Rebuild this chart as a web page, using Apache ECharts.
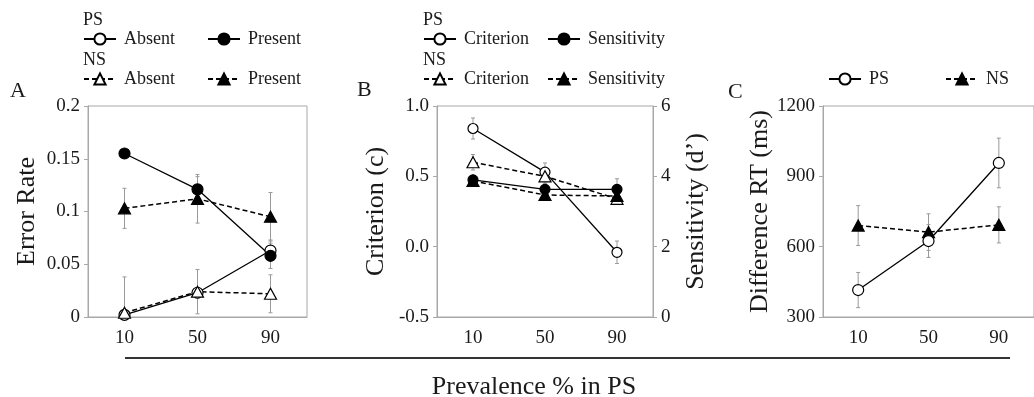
<!DOCTYPE html>
<html>
<head>
<meta charset="utf-8">
<script src="https://cdn.jsdelivr.net/npm/echarts@6/dist/echarts.min.js"></script>
<style>
  html, body { margin: 0; padding: 0; background: #fff; }
  #chart { width: 1034px; height: 397px; }
</style>
</head>
<body>
<div id="chart"></div>
<script>
// x categories (prevalence % in PS)
const categories = ['10', '50', '90'];

// panel A: error rate
const errorTicks = [0, 0.05, 0.1, 0.15, 0.2];
const psAbsent = [0.002, 0.023, 0.063];
const psAbsentErr = [0.003, 0.005, 0.010];
const psPresent = [0.155, 0.121, 0.058];
const psPresentErr = [0.004, 0.012, 0.012];
const nsAbsent = [0.004, 0.024, 0.022];
const nsAbsentErr = [0.034, 0.021, 0.018];
const nsPresent = [0.103, 0.112, 0.095];
const nsPresentErr = [0.019, 0.023, 0.023];

// panel B: criterion (left axis) and sensitivity (right axis)
const criterionTicks = [-0.5, 0, 0.5, 1.0];
const sensitivityTicks = [0, 2, 4, 6];
const psCriterion = [0.84, 0.53, -0.04];
const psCriterionErr = [0.075, 0.065, 0.08];
const nsCriterion = [0.60, 0.50, 0.34];
const nsCriterionErr = [0.055, 0.05, 0.04];
const psSensitivity = [3.90, 3.63, 3.63];
const psSensitivityErr = [0.12, 0.12, 0.30];
const nsSensitivity = [3.87, 3.47, 3.44];
const nsSensitivityErr = [0.12, 0.10, 0.20];

// panel C: difference RT
const rtTicks = [300, 600, 900, 1200];
const psRT = [415, 624, 957];
const psRTErr = [75, 70, 106];
const nsRT = [690, 662, 693];
const nsRTErr = [85, 78, 77];

const FONT = '"Liberation Serif", "DejaVu Serif", serif';
const TXT = '#1a1a1a';
const GREY = '#a8a8a8';

const chart = echarts.init(document.getElementById('chart'));

const grids = [
  { left: 88, top: 106, width: 219, height: 211 },
  { left: 437, top: 106, width: 216, height: 211 },
  { left: 823, top: 106, width: 216, height: 211 }
].map(g => Object.assign(g, { show: true, borderColor: GREY, borderWidth: 1, backgroundColor: 'transparent' }));

const xAxes = [0, 1, 2].map(i => ({
  type: 'category',
  gridIndex: i,
  data: categories,
  boundaryGap: true,
  axisLine: { onZero: false, lineStyle: { color: GREY } },
  axisTick: { show: false },
  axisLabel: { color: TXT, fontFamily: FONT, fontSize: 19, margin: 12 },
  splitLine: { show: false }
}));

function valueAxis(gridIndex, ticks, name, extra) {
  return Object.assign({
    type: 'value',
    gridIndex: gridIndex,
    min: ticks[0],
    max: ticks[ticks.length - 1],
    interval: ticks[1] - ticks[0],
    name: name,
    nameLocation: 'middle',
    nameGap: 48,
    nameRotate: 90,
    nameTextStyle: { color: TXT, fontFamily: FONT, fontSize: 26 },
    axisLine: { show: true, onZero: false, lineStyle: { color: GREY } },
    axisTick: { show: true, inside: false, length: 4, lineStyle: { color: GREY } },
    axisLabel: { color: TXT, fontFamily: FONT, fontSize: 19, margin: 8 },
    splitLine: { show: false }
  }, extra || {});
}

const yAxes = [
  valueAxis(0, errorTicks, 'Error Rate'),
  valueAxis(1, criterionTicks, 'Criterion (c)', {
    axisLabel: { color: TXT, fontFamily: FONT, fontSize: 19, margin: 8, formatter: v => v.toFixed(1) }
  }),
  valueAxis(1, sensitivityTicks, 'Sensitivity (d\u2019)', { position: 'right', nameGap: 30 }),
  valueAxis(2, rtTicks, 'Difference RT (ms)', {
    axisLabel: { color: TXT, fontFamily: FONT, fontSize: 19, margin: 8, formatter: v => String(v) }
  })
];

function lineSeries(name, data, xi, yi, filled, dashed, symbol, size) {
  return {
    name: name,
    type: 'line',
    xAxisIndex: xi,
    yAxisIndex: yi,
    data: data,
    symbol: symbol,
    symbolSize: size,
    showAllSymbol: true,
    itemStyle: { color: filled ? '#000' : '#fff', borderColor: '#000', borderWidth: 1.2 },
    lineStyle: { color: '#000', width: dashed ? 1.5 : 1.3, type: dashed ? [5, 3] : 'solid' },
    emphasis: { disabled: true },
    z: 3
  };
}

function errorSeries(values, errs, xi, yi) {
  return {
    type: 'custom',
    xAxisIndex: xi,
    yAxisIndex: yi,
    silent: true,
    clip: true,
    z: 1,
    data: values.map((v, i) => [i, v - errs[i], v + errs[i]]),
    encode: { x: 0, y: [1, 2] },
    renderItem: (params, api) => {
      const lo = api.coord([api.value(0), api.value(1)]);
      const hi = api.coord([api.value(0), api.value(2)]);
      const x = lo[0];
      const style = { stroke: '#999', lineWidth: 1 };
      return {
        type: 'group',
        children: [
          { type: 'line', shape: { x1: x, y1: lo[1], x2: x, y2: hi[1] }, style: style },
          { type: 'line', shape: { x1: x - 2, y1: lo[1], x2: x + 2, y2: lo[1] }, style: style },
          { type: 'line', shape: { x1: x - 2, y1: hi[1], x2: x + 2, y2: hi[1] }, style: style }
        ]
      };
    }
  };
}

const TRI = [12, 11];

const series = [
  // A
  errorSeries(psAbsent, psAbsentErr, 0, 0),
  errorSeries(psPresent, psPresentErr, 0, 0),
  errorSeries(nsAbsent, nsAbsentErr, 0, 0),
  errorSeries(nsPresent, nsPresentErr, 0, 0),
  lineSeries('PS Absent', psAbsent, 0, 0, false, false, 'circle', 11),
  lineSeries('NS Absent', nsAbsent, 0, 0, false, true, 'triangle', TRI),
  lineSeries('NS Present', nsPresent, 0, 0, true, true, 'triangle', TRI),
  lineSeries('PS Present', psPresent, 0, 0, true, false, 'circle', 11),
  // B
  errorSeries(psCriterion, psCriterionErr, 1, 1),
  errorSeries(nsCriterion, nsCriterionErr, 1, 1),
  errorSeries(psSensitivity, psSensitivityErr, 1, 2),
  errorSeries(nsSensitivity, nsSensitivityErr, 1, 2),
  lineSeries('PS Criterion', psCriterion, 1, 1, false, false, 'circle', 10),
  lineSeries('NS Criterion', nsCriterion, 1, 1, false, true, 'triangle', TRI),
  lineSeries('NS Sensitivity', nsSensitivity, 1, 2, true, true, 'triangle', TRI),
  lineSeries('PS Sensitivity', psSensitivity, 1, 2, true, false, 'circle', 10),
  // C
  errorSeries(psRT, psRTErr, 2, 3),
  errorSeries(nsRT, nsRTErr, 2, 3),
  lineSeries('NS', nsRT, 2, 3, true, true, 'triangle', TRI),
  lineSeries('PS', psRT, 2, 3, false, false, 'circle', 11)
];

function legendItem(name, left, top, label) {
  return {
    data: [name],
    left: left,
    top: top,
    padding: 0,
    itemWidth: 32,
    itemHeight: 14,
    selectedMode: false,
    formatter: () => label,
    textStyle: { color: TXT, fontFamily: FONT, fontSize: 18, padding: [0, 0, 0, 3] }
  };
}

const legends = [
  legendItem('PS Absent', 83, 30, 'Absent'),
  legendItem('PS Present', 207, 30, 'Present'),
  legendItem('NS Absent', 83, 70, 'Absent'),
  legendItem('NS Present', 207, 70, 'Present'),
  legendItem('PS Criterion', 423, 30, 'Criterion'),
  legendItem('PS Sensitivity', 547, 30, 'Sensitivity'),
  legendItem('NS Criterion', 423, 70, 'Criterion'),
  legendItem('NS Sensitivity', 547, 70, 'Sensitivity'),
  legendItem('PS', 828, 70, 'PS'),
  legendItem('NS', 945, 70, 'NS')
];

function heading(text, x, y, size) {
  return {
    type: 'text',
    x: x,
    y: y,
    style: { text: text, fill: TXT, font: size + 'px ' + FONT, textVerticalAlign: 'middle' }
  };
}

const option = {
  animation: false,
  backgroundColor: '#fff',
  grid: grids,
  xAxis: xAxes,
  yAxis: yAxes,
  legend: legends,
  series: series,
  graphic: [
    heading('PS', 83, 20, 18),
    heading('NS', 83, 60, 18),
    heading('PS', 423, 20, 18),
    heading('NS', 423, 60, 18),
    heading('A', 10, 91, 22),
    heading('B', 357, 90, 22),
    heading('C', 728, 92, 22),
    { type: 'line', shape: { x1: 125, y1: 358, x2: 1010, y2: 358 }, style: { stroke: '#333', lineWidth: 2 } },
    { type: 'text', x: 534, y: 387, style: { text: 'Prevalence % in PS', fill: TXT, font: '26px ' + FONT, textAlign: 'center', textVerticalAlign: 'middle' } }
  ]
};

chart.setOption(option);
</script>
</body>
</html>
